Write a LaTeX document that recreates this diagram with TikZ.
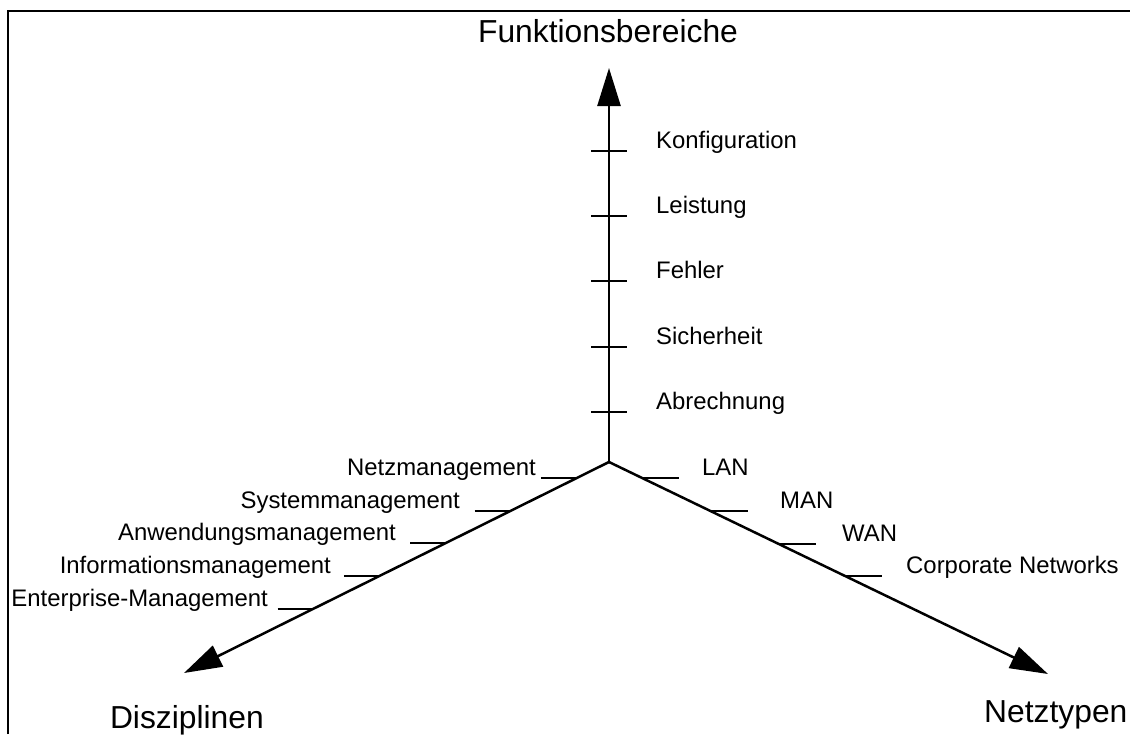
\documentclass[tikz,border=0pt]{standalone}
\usepackage{fontspec}
\setmainfont{Liberation Sans}
\usetikzlibrary{arrows.meta}

\tikzset{
  axisline/.style={line width=2.5pt, -{Triangle[length=38pt,width=23pt]}},
  tickmark/.style={line width=2.5pt},
  frameline/.style={line width=2.3pt},
  lbl/.style={inner sep=0pt, font=\fontsize{23.9}{28}\selectfont},
  ttl/.style={inner sep=0pt, font=\fontsize{31.8}{38}\selectfont},
}

\begin{document}
\begin{tikzpicture}[x=1pt, y=-1pt]
\useasboundingbox (0,0) rectangle (1130,734);

% frame edges
\draw[frameline] (8,734) -- (8,11) -- (1130,11);

% axes
\coordinate (O) at (609,462);
\coordinate (Ftip) at (609,68);
\coordinate (Dtip) at (184,673);
\coordinate (Ntip) at (1048,674);
\draw[axisline] (O) -- (Ftip);
\draw[axisline] (O) -- (Dtip);
\draw[axisline] (O) -- (Ntip);

% axis titles
\node[ttl, anchor=base] (tF) at (608,42) {Funktionsbereiche};
\node[ttl, anchor=base east] (tD) at (264,728) {Disziplinen};
\node[ttl, anchor=base west] (tN) at (984,722) {Netztypen};

% Funktionsbereiche: ticks across the vertical axis
\foreach \y/\name/\txt in {151/f1/Konfiguration, 216/f2/Leistung, 281/f3/Fehler,
                          347/f4/Sicherheit, 412/f5/Abrechnung} {
  \coordinate (\name a) at (591,\y);
  \coordinate (\name b) at (627,\y);
  \draw[tickmark] (\name a) -- (\name b);
  \node[lbl, anchor=base west] (\name) at (656,\y-3) {\txt};
}

% Disziplinen: ticks ending on the left axis
\foreach \x/\y/\name/\lx/\txt in {
    576.8/478/d1/536/Netzmanagement,
    510.5/511/d2/460/Systemmanagement,
    446.2/543/d3/396/Anwendungsmanagement,
    379.9/576/d4/331/Informationsmanagement,
    313.6/609/d5/268/Enterprise-Management} {
  \coordinate (\name a) at (\x-36,\y);
  \coordinate (\name b) at (\x,\y);
  \draw[tickmark] (\name a) -- (\name b);
  \node[lbl, anchor=base east] (\name) at (\lx,\y-3) {\txt};
}

% Netztypen: ticks starting on the right axis
\foreach \x/\y/\name/\lx/\txt in {
    642.1/478/n1/702/LAN,
    710.5/511/n2/780/MAN,
    778.8/544/n3/842/WAN,
    845.1/576/n4/906/Corporate Networks} {
  \coordinate (\name a) at (\x,\y);
  \coordinate (\name b) at (\x+37,\y);
  \draw[tickmark] (\name a) -- (\name b);
  \node[lbl, anchor=base west] (\name) at (\lx,\y-3) {\txt};
}
\end{tikzpicture}
\end{document}
